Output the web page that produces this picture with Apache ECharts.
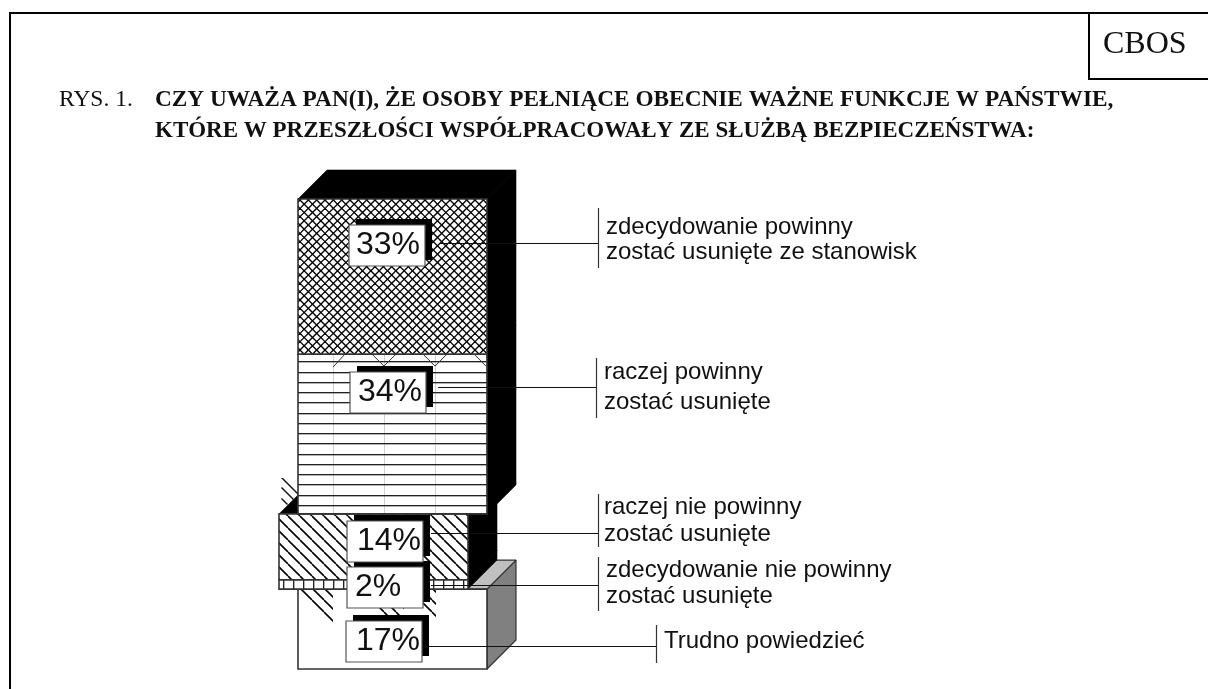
<!DOCTYPE html>
<html>
<head>
<meta charset="utf-8">
<style>
  html, body { margin: 0; padding: 0; background: #fff; }
  #main { width: 1208px; height: 689px; }
</style>
<script src="https://cdn.jsdelivr.net/npm/echarts@6/dist/echarts.min.js"></script>
</head>
<body>
<div id="main"></div>
<script>
// od dolu slupka do gory
var categories = [
    'Trudno powiedzieć',
    'zdecydowanie nie powinny\nzostać usunięte',
    'raczej nie powinny\nzostać usunięte',
    'raczej powinny\nzostać usunięte',
    'zdecydowanie powinny\nzostać usunięte ze stanowisk'
];
var values = [17, 2, 14, 34, 33];
var valueLabels = ['17%', '2%', '14%', '34%', '33%'];

var titlePrefix = 'RYS. 1.';
var titleLines = [
    'CZY UWAŻA PAN(I), ŻE OSOBY PEŁNIĄCE OBECNIE WAŻNE FUNKCJE W PAŃSTWIE,',
    'KTÓRE W PRZESZŁOŚCI WSPÓŁPRACOWAŁY ZE SŁUŻBĄ BEZPIECZEŃSTWA:'
];

// uklad: przesuniecie klockow, ramki z procentami, opisy
var depth = 29;
var blockShift = [0, -19, -19, 0, 0];
var boxX = [346, 347, 347, 350, 349];
var boxY = [621, 567, 521, 372, 225];
var boxTextX = [356, 355, 357, 358, 356];
var leaderY = [646.5, 585.5, 533.5, 387.5, 243.5];
var leaderFrom = [429, 431, 431, 438, 439];
var bracketX = [656.5, 598.5, 598.5, 596.5, 598.5];
var bracketTop = [625, 557, 494, 358, 208];
var bracketBottom = [663, 611, 547, 418, 268];
var textX = [664, 606, 604, 604, 606];
var textY = [[641], [570, 596], [507, 534], [372, 402], [227, 252]];

var edge = '#333';
var ink = '#111';

function makeTile(w, h, draw) {
    var c = document.createElement('canvas');
    c.width = w;
    c.height = h;
    var ctx = c.getContext('2d');
    draw(ctx);
    return { type: 'pattern', image: c, repeat: 'repeat' };
}

// n ukosnych linii na kafelek o boku size
function diagonals(ctx, size, n, down) {
    var p = size / n;
    for (var k = -n; k <= n; k++) {
        ctx.beginPath();
        if (down) {
            ctx.moveTo(k * p, 0);
            ctx.lineTo(k * p + size, size);
        } else {
            ctx.moveTo(k * p, size);
            ctx.lineTo(k * p + size, 0);
        }
        ctx.stroke();
    }
}

var crossFill = makeTile(25, 25, function (ctx) {
    ctx.strokeStyle = '#000';
    ctx.lineWidth = 1.35;
    diagonals(ctx, 25, 3, true);
    diagonals(ctx, 25, 3, false);
});
var hatchFill = makeTile(12, 12, function (ctx) {
    ctx.strokeStyle = '#000';
    ctx.lineWidth = 1.6;
    diagonals(ctx, 12, 1, true);
});
var stripeFill = makeTile(51, 41, function (ctx) {
    ctx.fillStyle = '#d0d0d0';
    ctx.fillRect(27, 0, 1, 41);
    [3, 13, 23, 33].forEach(function (y) {
        ctx.fillStyle = '#222';
        ctx.fillRect(0, y, 51, 1);
        ctx.fillStyle = 'rgba(0,0,0,0.3)';
        ctx.fillRect(0, y + 1, 51, 1);
    });
});
var barsFill = makeTile(10, 10, function (ctx) {
    ctx.fillStyle = '#222';
    ctx.fillRect(3, 0, 1, 10);
    ctx.fillStyle = 'rgba(0,0,0,0.3)';
    ctx.fillRect(4, 0, 1, 10);
});
var frontFill = [null, barsFill, hatchFill, stripeFill, crossFill];

function stackBase(i) {
    var s = 0;
    for (var k = 0; k < i; k++) s += values[k];
    return s;
}

function poly(points, fill, stroke, w) {
    return {
        type: 'polygon',
        shape: { points: points },
        style: { fill: fill, stroke: stroke || null, lineWidth: stroke ? (w || 1.2) : 0, lineJoin: 'bevel' }
    };
}

function line(x1, y1, x2, y2, color, w) {
    return {
        type: 'line',
        shape: { x1: x1, y1: y1, x2: x2, y2: y2 },
        style: { stroke: color || ink, lineWidth: w || 1 }
    };
}

function renderBlock(params, api) {
    var i = params.dataIndex;
    var base = stackBase(i);
    var band = api.size([1, 0])[0];
    var mid = api.coord([0, base + api.value(1)]);
    var low = api.coord([0, base]);
    var l = mid[0] - band / 2 + blockShift[i];
    var r = l + band;
    var t = mid[1];
    var b = low[1];
    var isBottom = i === 0;
    var sideColor = isBottom ? '#808080' : '#000';
    var topColor = isBottom ? '#c0c0c0' : '#000';
    var sideEdge = isBottom ? edge : '#000';
    var sideWidth = isBottom ? 1.2 : 0.6;
    var children = [];

    // slady kreskowania wystajace poza klocki
    if (i === 1) {
        children.push(poly([[l + 19, b], [l + 54, b], [l + 54, b + 35]], hatchFill));
        children.push(poly([[l + 90, b + 16], [l + 125, b + 16], [l + 125, b + 36], [l + 110, b + 36]], hatchFill));
        children.push(poly([[r - 45, b], [r - 32, b], [r - 32, b + 33], [r - 45, b + 20]], hatchFill));
    }
    children.push(poly([[r, t], [r + depth, t - depth], [r + depth, b - depth], [r, b]], sideColor, sideEdge, sideWidth));
    children.push(poly([[l, t], [l + depth, t - depth], [r + depth, t - depth], [r, t]], topColor, sideEdge, sideWidth));
    if (i === 2) {
        children.push(poly([[l + 2, t - 36], [l + 19, t - 19], [l + 19, t - 21], [l + 4, t - 36]], '#111'));
        children.push(poly([[l + 2, t - 26], [l + 14, t - 14], [l + 15, t - 15], [l + 3, t - 27]], '#111'));
        children.push(poly([[l + 2, t - 15], [l + 8, t - 9], [l + 9, t - 10], [l + 3, t - 16]], '#111'));
    }
    children.push({
        type: 'rect',
        shape: { x: l, y: t, width: band, height: b - t },
        style: { fill: '#fff' }
    });
    if (frontFill[i]) {
        children.push({
            type: 'rect',
            shape: { x: l, y: t, width: band, height: b - t },
            style: { fill: frontFill[i] }
        });
    }
    children.push({
        type: 'rect',
        shape: { x: l, y: t, width: band, height: b - t },
        style: { fill: 'none', stroke: edge, lineWidth: 1.6 }
    });
    // daszki na gornej krawedzi paska
    if (i === 3) {
        [-1, 0, 1, 2].forEach(function (k) {
            var cx = l + 35 + 51 * (k + 1);
            var a = k === -1 ? cx : cx - 12;
            var e = k === 2 ? cx : cx + 12;
            children.push({
                type: 'polyline',
                shape: { points: k === -1 ? [[cx, t + 13], [cx + 12, t]] : k === 2 ? [[a, t], [cx, t + 12]] : [[a, t], [cx, t + 12], [e, t]] },
                style: { fill: 'none', stroke: '#333', lineWidth: 1 }
            });
        });
    }
    return { type: 'group', children: children };
}

function renderNote(params, api) {
    var i = params.dataIndex;
    var children = [];
    var x = boxX[i];
    var y = boxY[i];
    children.push(line(leaderFrom[i], leaderY[i], bracketX[i], leaderY[i], '#111', 1.2));
    children.push(line(bracketX[i], bracketTop[i], bracketX[i], bracketBottom[i], '#333', 1.2));
    children.push({ type: 'rect', shape: { x: x + 7, y: y - 6, width: 76, height: 41 }, style: { fill: '#000' } });
    children.push({ type: 'rect', shape: { x: x, y: y, width: 76, height: 41 }, style: { fill: '#fff', stroke: '#555', lineWidth: 1.2 } });
    children.push({
        type: 'text',
        style: {
            text: valueLabels[i], x: boxTextX[i], y: y + 20,
            fill: '#111', font: '32px "Liberation Sans"', align: 'left', verticalAlign: 'middle'
        }
    });
    categories[i].split('\n').forEach(function (txt, n) {
        children.push({
            type: 'text',
            style: {
                text: txt, x: textX[i], y: textY[i][n],
                fill: '#111', font: '24px "Liberation Sans"', align: 'left', verticalAlign: 'middle'
            }
        });
    });
    return { type: 'group', children: children };
}

function frameLine(x1, y1, x2, y2) {
    return { type: 'line', shape: { x1: x1, y1: y1, x2: x2, y2: y2 }, style: { stroke: '#000', lineWidth: 2 } };
}

function pageText(txt, x, y, font) {
    return {
        type: 'text', x: x, y: y,
        style: { text: txt, fill: '#111', font: font, align: 'left', verticalAlign: 'middle' }
    };
}

var myChart = echarts.init(document.getElementById('main'));
var rows = values.map(function (v, i) { return [0, v]; });

myChart.setOption({
    animation: false,
    backgroundColor: '#fff',
    grid: { left: 298, top: 199, width: 189, height: 470 },
    xAxis: { type: 'category', data: ['CBOS'], show: false },
    yAxis: { type: 'value', min: 0, max: 100, show: false },
    graphic: [
        frameLine(9, 13, 1208, 13),
        frameLine(10, 13, 10, 689),
        frameLine(1089, 13, 1089, 80),
        frameLine(1088, 79, 1208, 79),
        pageText('CBOS', 1103, 45, '32px "Liberation Serif"'),
        pageText(titlePrefix, 59, 100, '23.5px "Liberation Serif"'),
        pageText(titleLines[0], 155, 100, 'bold 23.3px "Liberation Serif"'),
        pageText(titleLines[1], 155, 131, 'bold 23px "Liberation Serif"')
    ],
    series: [
        { type: 'custom', renderItem: renderBlock, data: rows, clip: false, silent: true, z: 2 },
        { type: 'custom', renderItem: renderNote, data: rows, clip: false, silent: true, z: 3 }
    ]
});
</script>
</body>
</html>
